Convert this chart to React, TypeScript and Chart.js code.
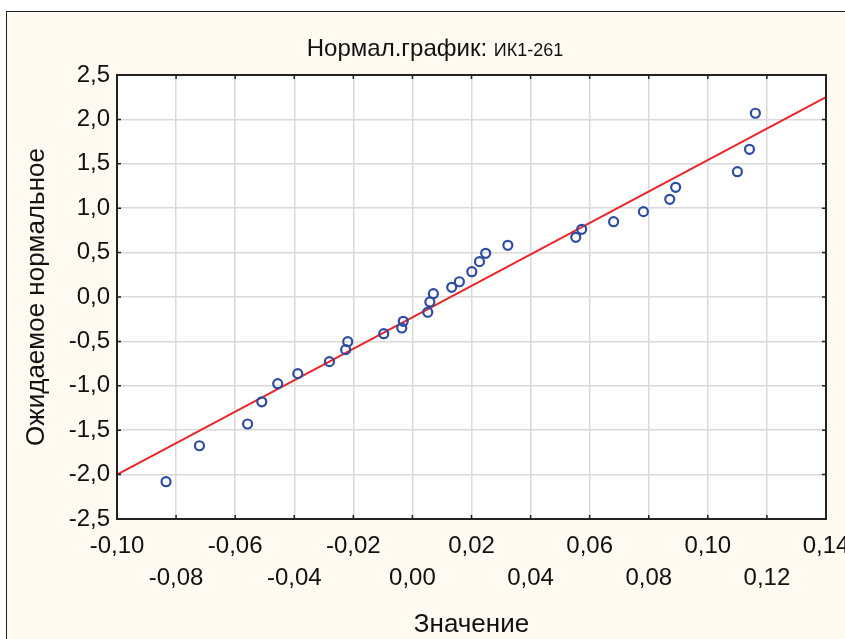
import React, { useEffect, useRef } from "react";
import { Chart, registerables } from "chart.js";

Chart.register(...registerables);

// Observed sample values (x) and expected normal values (y)
const sampleValues = [
  -0.0834, -0.0721, -0.0558, -0.051, -0.0456, -0.0388, -0.0281, -0.0226, -0.0219, -0.0097,
  -0.0036, -0.0031, 0.0052, 0.0059, 0.0071, 0.0133, 0.0159, 0.0201, 0.0227, 0.0248,
  0.0323, 0.0553, 0.0573, 0.0681, 0.0782, 0.0871, 0.0891, 0.11, 0.1141, 0.1161,
];
const expectedNormal = [
  -2.08, -1.675, -1.43, -1.18, -0.976, -0.863, -0.728, -0.593, -0.503, -0.413,
  -0.349, -0.274, -0.172, -0.056, 0.037, 0.109, 0.172, 0.285, 0.398, 0.492,
  0.582, 0.672, 0.762, 0.848, 0.961, 1.1, 1.235, 1.411, 1.663, 2.069,
];
// Fitted line endpoints
const fitX = [-0.1, 0.14];
const fitY = [-2.0, 2.25];

const xMin = -0.1;
const xMax = 0.14;
const xStep = 0.02;
const yMin = -2.5;
const yMax = 2.5;
const yStep = 0.5;

const titleMain = "Нормал.график: ";
const titleSub = "ИК1-261";
const xTitle = "Значение";
const yTitle = "Ожидаемое нормальное";

const FONT = "'Liberation Sans', Arial, sans-serif";

function fmt(v: number, d: number) {
  const val = Math.abs(v) < 1e-9 ? 0 : v;
  return val.toFixed(d).replace(".", ",");
}

const decorPlugin = {
  id: "decor",
  beforeDraw(chart: any) {
    const { ctx, chartArea } = chart;
    ctx.save();
    ctx.fillStyle = "#ffffff";
    ctx.fillRect(chartArea.left, chartArea.top, chartArea.right - chartArea.left, chartArea.bottom - chartArea.top);
    ctx.restore();
  },
  afterDraw(chart: any) {
    const { ctx, chartArea, scales } = chart;
    const { left, right, top, bottom } = chartArea;
    ctx.save();
    // inside tick marks
    ctx.strokeStyle = "#222222";
    ctx.lineWidth = 1.5;
    const tl = 4;
    scales.x.ticks.forEach((t: any) => {
      const px = scales.x.getPixelForValue(t.value);
      ctx.beginPath();
      ctx.moveTo(px, bottom);
      ctx.lineTo(px, bottom - tl);
      ctx.moveTo(px, top);
      ctx.lineTo(px, top + tl);
      ctx.stroke();
    });
    scales.y.ticks.forEach((t: any) => {
      const py = scales.y.getPixelForValue(t.value);
      ctx.beginPath();
      ctx.moveTo(left, py);
      ctx.lineTo(left + tl, py);
      ctx.moveTo(right, py);
      ctx.lineTo(right - tl, py);
      ctx.stroke();
    });
    // plot border
    ctx.lineWidth = 2;
    ctx.strokeStyle = "#222222";
    ctx.strokeRect(left, top, right - left, bottom - top);

    // title
    ctx.fillStyle = "#111111";
    ctx.textBaseline = "alphabetic";
    ctx.font = `24px ${FONT}`;
    const w1 = ctx.measureText(titleMain).width;
    ctx.font = `18px ${FONT}`;
    const w2 = ctx.measureText(titleSub).width;
    const cx = 435;
    const x0 = cx - (w1 + w2) / 2;
    ctx.font = `24px ${FONT}`;
    ctx.textAlign = "left";
    ctx.fillText(titleMain, x0, 56);
    ctx.font = `18px ${FONT}`;
    ctx.fillText(titleSub, x0 + w1, 56);

    // axis titles
    ctx.font = `26px ${FONT}`;
    ctx.textAlign = "center";
    ctx.textBaseline = "middle";
    ctx.fillText(xTitle, (left + right) / 2, 625);
    ctx.save();
    ctx.translate(37, (top + bottom) / 2);
    ctx.rotate(-Math.PI / 2);
    ctx.fillText(yTitle, 0, 0);
    ctx.restore();
    ctx.restore();
  },
};

export default function App() {
  const canvasRef = useRef<HTMLCanvasElement | null>(null);

  useEffect(() => {
    const canvas = canvasRef.current;
    if (!canvas) return;
    const scatterData = sampleValues.map((x, i) => ({ x, y: expectedNormal[i] }));
    const lineData = fitX.map((x, i) => ({ x, y: fitY[i] }));
    const chart = new Chart(canvas, {
      type: "scatter",
      data: {
        datasets: [
          {
            type: "line",
            data: lineData,
            borderColor: "#e8262b",
            borderWidth: 2,
            pointRadius: 0,
            fill: false,
            order: 1,
          } as any,
          {
            data: scatterData,
            pointRadius: 4.5,
            pointBorderWidth: 2.2,
            borderColor: "#2f4ba0",
            pointBorderColor: "#2f4ba0",
            backgroundColor: "rgba(0,0,0,0)",
            pointBackgroundColor: "rgba(0,0,0,0)",
            order: 0,
          } as any,
        ],
      },
      options: {
        animation: false,
        responsive: false,
        maintainAspectRatio: false,
        layout: { padding: { left: 0, right: 19, top: 75, bottom: 0 } },
        plugins: { legend: { display: false }, tooltip: { enabled: false }, title: { display: false } },
        scales: {
          x: {
            type: "linear",
            min: xMin,
            max: xMax,
            afterBuildTicks(scale: any) {
              const ticks = [];
              const n = Math.round((xMax - xMin) / xStep);
              for (let i = 0; i <= n; i++) ticks.push({ value: xMin + i * xStep });
              scale.ticks = ticks;
            },
            afterFit(scale: any) {
              scale.height = 639 - 519;
              scale.paddingLeft = 0;
              scale.paddingRight = 0;
            },
            grid: { color: "#d9d9d9", lineWidth: 1.5, drawTicks: false },
            border: { display: false },
            ticks: {
              autoSkip: false,
              maxRotation: 0,
              minRotation: 0,
              padding: 11,
              color: "#111111",
              font: { family: FONT, size: 24, lineHeight: 1.35 },
              callback(value: any, index: number) {
                const s = fmt(Number(value), 2);
                return index % 2 === 0 ? [s, ""] : ["", s];
              },
            },
          },
          y: {
            type: "linear",
            min: yMin,
            max: yMax,
            afterBuildTicks(scale: any) {
              const ticks = [];
              const n = Math.round((yMax - yMin) / yStep);
              for (let i = 0; i <= n; i++) ticks.push({ value: yMin + i * yStep });
              scale.ticks = ticks;
            },
            afterFit(scale: any) {
              scale.width = 117;
              scale.paddingTop = 0;
              scale.paddingBottom = 0;
            },
            grid: { color: "#d9d9d9", lineWidth: 1.5, drawTicks: false },
            border: { display: false },
            ticks: {
              padding: 7,
              color: "#111111",
              font: { family: FONT, size: 24 },
              callback(value: any) {
                return fmt(Number(value), 1);
              },
            },
          },
        },
      },
      plugins: [decorPlugin],
    });
    return () => chart.destroy();
  }, []);

  return (
    <div style={{ position: "fixed", left: 0, top: 0, width: 845, height: 639, background: "#ffffff", overflow: "hidden" }}>
      <div
        style={{
          position: "absolute",
          left: 6,
          top: 11,
          width: 900,
          height: 700,
          background: "#fefaf1",
          border: "1.5px solid #222222",
          boxSizing: "border-box",
        }}
      />
      <canvas ref={canvasRef} width={845} height={639} style={{ position: "absolute", left: 0, top: 0, width: 845, height: 639 }} />
    </div>
  );
}
